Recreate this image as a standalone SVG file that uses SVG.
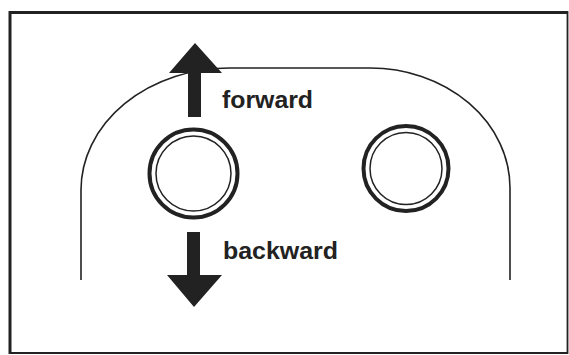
<svg xmlns="http://www.w3.org/2000/svg" width="569" height="355" viewBox="0 0 569 355">
<style>
.frame{fill:none;stroke:#222;stroke-width:2.5}
.track{fill:none;stroke:#222;stroke-width:1.6}
.ring{fill:none;stroke:#222;stroke-width:4}
.inner{fill:none;stroke:#222;stroke-width:1.5}
.arrow{fill:#222;stroke:none}
.lbl{font-family:"Liberation Sans",Arial,sans-serif;font-weight:bold;font-size:24px;fill:#222}
</style>
<rect width="569" height="355" fill="#fff"/>
<g id="frame">
<line x1="9" y1="12.5" x2="568" y2="12.5" stroke="#222" stroke-width="3"/>
<line x1="10" y1="11" x2="10" y2="354" stroke="#222" stroke-width="3"/>
<line x1="567.5" y1="11" x2="567.5" y2="354" stroke="#222" stroke-width="1.8"/>
<line x1="9" y1="353" x2="568" y2="353" stroke="#222" stroke-width="2"/>
</g>
<g id="connectors">
<path class="track" d="M81,280 V190 A149,122 0 0 1 230,68 H370 A140,120 0 0 1 510,188 V280"/>
</g>
<g id="wheel-left">
<circle class="ring" cx="193.5" cy="173.5" r="44"/>
<circle class="inner" cx="193.5" cy="173.5" r="37.5"/>
</g>
<g id="wheel-right">
<circle class="ring" cx="406" cy="168.5" r="42.5"/>
<circle class="inner" cx="406" cy="168.5" r="36"/>
</g>
<g id="forward">
<polygon class="arrow" points="195,43 222,73 201,73 201,117 188,117 188,73 169,73"/>
<text class="lbl" x="222" y="108" textLength="91" lengthAdjust="spacingAndGlyphs">forward</text>
</g>
<g id="backward">
<polygon class="arrow" points="187,232 200,232 200,275 222,275 194,307 167,275 187,275"/>
<text class="lbl" x="223" y="259" textLength="115" lengthAdjust="spacingAndGlyphs">backward</text>
</g>
</svg>
